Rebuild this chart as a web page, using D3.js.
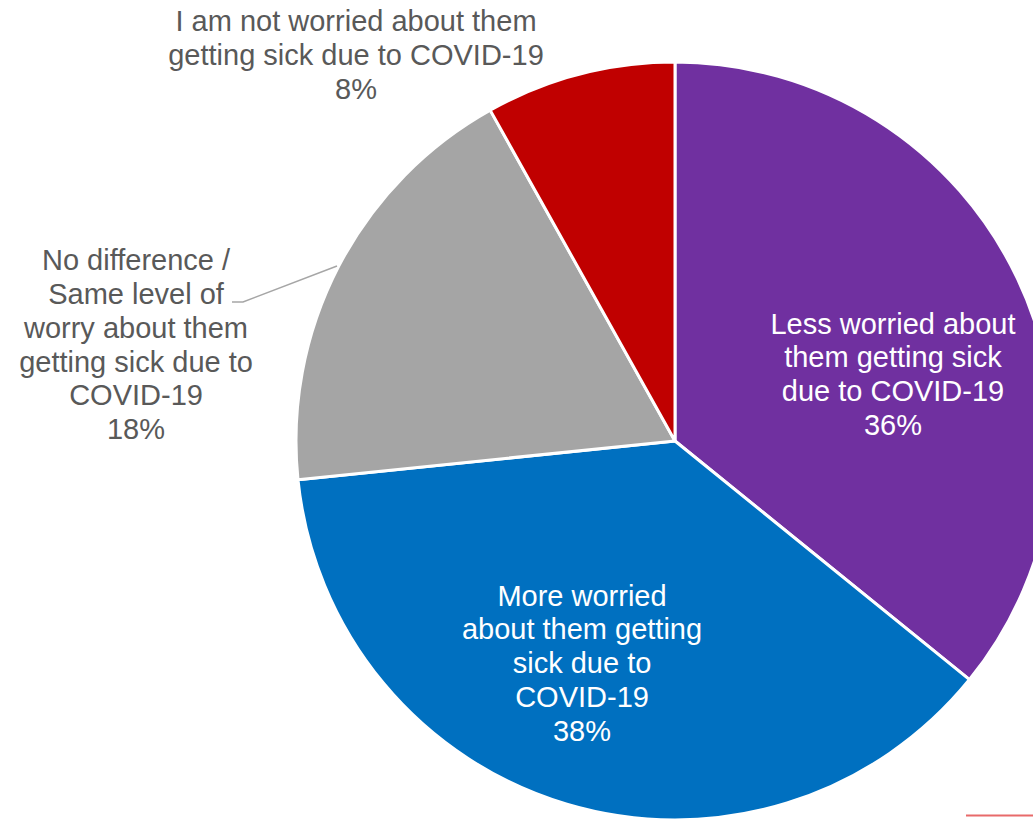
<!DOCTYPE html>
<html><head><meta charset="utf-8">
<script src="https://cdn.jsdelivr.net/npm/d3@7"></script>
<style>html,body{margin:0;padding:0;background:#fff;overflow:hidden}</style>
</head><body>
<svg id="chart" width="1033" height="820"></svg>
<script>
const categories = [
  "Less worried about them getting sick due to COVID-19",
  "More worried about them getting sick due to COVID-19",
  "No difference / Same level of worry about them getting sick due to COVID-19",
  "I am not worried about them getting sick due to COVID-19"
];
const values = [35.8, 37.5, 18.5, 8.1];
const percentLabels = ["36%", "38%", "18%", "8%"];
const labelLines = [
  ["Less worried about", "them getting sick", "due to COVID-19"],
  ["More worried", "about them getting", "sick due to", "COVID-19"],
  ["No difference /", "Same level of", "worry about them", "getting sick due to", "COVID-19"],
  ["I am not worried about them", "getting sick due to COVID-19"]
];
const colors = ["#7030A0", "#0070C0", "#A5A5A5", "#C00000"];

// layout (label anchor points, relative to pie center)
const cx = 675, cy = 441, R = 379;
const labelAnchor = [[218, -67], [-93, 222], [-539, -96.5], [-319, -386]];
const labelColor = ["#fff", "#fff", "#595959", "#595959"];
const lineH = 33.7;

const svg = d3.select("#chart");
const g = svg.append("g").attr("transform", `translate(${cx},${cy})`);
const pie = d3.pie().sort(null).value(d => d)(values);
const arc = d3.arc().innerRadius(0).outerRadius(R);

g.selectAll("path.slice").data(pie).join("path")
  .attr("class", "slice")
  .attr("d", arc)
  .attr("fill", (d, i) => colors[i])
  .attr("stroke", "#fff").attr("stroke-width", 3).attr("stroke-linejoin", "round");

// leader line for gray slice
g.append("polyline")
  .attr("points", [[-443, -139], [-432, -139], [-338, -175]].map(p => p.join(",")).join(" "))
  .attr("fill", "none").attr("stroke", "#A6A6A6").attr("stroke-width", 1.5);

labelLines.forEach((lines, i) => {
  const all = lines.concat([percentLabels[i]]);
  const [ax, ay] = labelAnchor[i];
  const t = g.append("text")
    .attr("text-anchor", "middle")
    .attr("font-family", "Liberation Sans, Arial, sans-serif")
    .attr("font-size", 29)
    .attr("fill", labelColor[i]);
  const y0 = ay - (all.length - 1) * lineH / 2;
  all.forEach((s, k) => {
    t.append("tspan").attr("x", ax).attr("y", y0 + k * lineH).attr("dy", "0.35em").text(s);
  });
});

// small red line at bottom right
svg.append("line").attr("x1", 966).attr("x2", 1033).attr("y1", 815.5).attr("y2", 815.5)
  .attr("stroke", "#E86A6A").attr("stroke-width", 2);
</script>
</body></html>
